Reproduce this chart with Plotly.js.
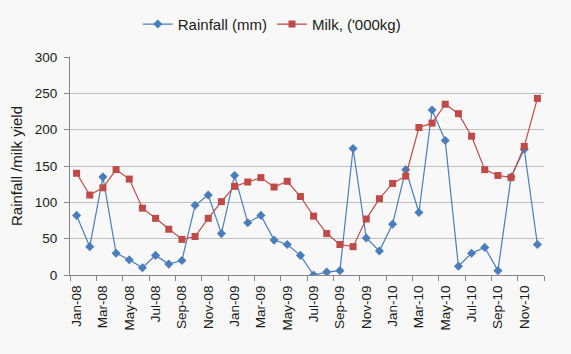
<!DOCTYPE html>
<html>
<head>
<meta charset="utf-8">
<script src="https://cdn.plot.ly/plotly-3.0.1.min.js"></script>
<style>html,body{margin:0;padding:0;background:#f8f8f8;}#chart{width:571px;height:354px;}</style>
</head>
<body>
<div id="chart"></div>
<script>
const months = ["Jan-08","Feb-08","Mar-08","Apr-08","May-08","Jun-08","Jul-08","Aug-08","Sep-08","Oct-08","Nov-08","Dec-08",
"Jan-09","Feb-09","Mar-09","Apr-09","May-09","Jun-09","Jul-09","Aug-09","Sep-09","Oct-09","Nov-09","Dec-09",
"Jan-10","Feb-10","Mar-10","Apr-10","May-10","Jun-10","Jul-10","Aug-10","Sep-10","Oct-10","Nov-10","Dec-10"];
const rainfall = [82,39,135,30,21,10,27,15,20,96,110,57,
137,72,82,48,42,27,0,4,6,174,51,33,
70,145,86,227,185,12,30,38,6,135,173,42];
const milk = [140,110,120,145,132,92,78,63,49,53,78,101,
122,128,134,121,129,108,81,57,42,39,77,105,
126,136,203,209,235,222,191,145,137,134,177,243];

const font = {family: "Liberation Sans, Arial, sans-serif", size: 13, color: "#1a1a1a"};

const traces = [
  {x: months, y: rainfall, name: "Rainfall (mm)", type: "scatter", mode: "lines+markers",
   line: {color: "#4a7ebb", width: 1.2}, marker: {symbol: "diamond", size: 7, color: "#4a7ebb"}},
  {x: months, y: milk, name: "Milk, ('000kg)", type: "scatter", mode: "lines+markers",
   line: {color: "#be4b48", width: 1.2}, marker: {symbol: "square", size: 7, color: "#be4b48"}}
];

const layout = {
  width: 571, height: 354,
  paper_bgcolor: "#f8f8f8", plot_bgcolor: "#f8f8f8",
  font: font,
  margin: {l: 70, r: 27, t: 57, b: 79, autoexpand: false},
  showlegend: true,
  legend: {orientation: "h", x: 0.143, xanchor: "left", y: 1.15, yanchor: "middle",
           font: {family: font.family, size: 15, color: "#1a1a1a"}, bgcolor: "rgba(0,0,0,0)"},
  xaxis: {type: "category", tickmode: "linear", dtick: 2, tick0: 0, tickson: "boundaries",
          tickangle: -90, ticks: "outside", ticklen: 5, tickcolor: "#868686",
          ticklabelstandoff: 4, automargin: false,
          showline: true, linecolor: "#868686", linewidth: 1, showgrid: false,
          range: [-0.5, 35.5], tickfont: {size: 13.5, color: "#1a1a1a"}},
  yaxis: {range: [0, 300], dtick: 50, ticks: "outside", ticklen: 5, tickcolor: "#868686",
          ticklabelstandoff: 4, automargin: false,
          showline: true, linecolor: "#868686", linewidth: 1,
          showgrid: true, gridcolor: "#bfbfbf", gridwidth: 1, zeroline: false,
          tickfont: {size: 13.5, color: "#1a1a1a"},
          title: {text: "Rainfall /milk yield", font: {size: 15, color: "#1a1a1a"}, standoff: 8}}
};

Plotly.newPlot("chart", traces, layout, {displayModeBar: false});
</script>
</body>
</html>
